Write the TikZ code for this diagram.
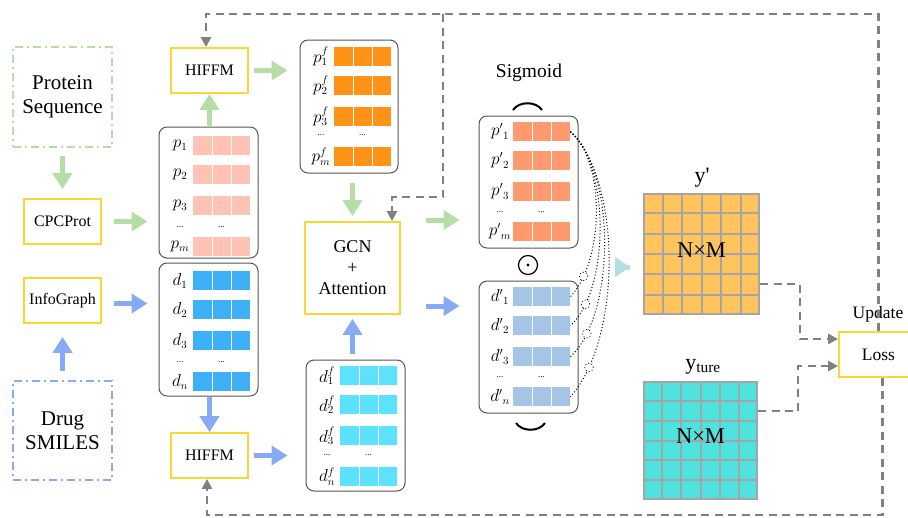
\documentclass[tikz,border=0pt]{standalone}
\usepackage{fontspec}
\setmainfont{Liberation Serif}
\usetikzlibrary{arrows.meta,calc}
\definecolor{myyellow}{RGB}{250,215,50}
\definecolor{mygreen}{RGB}{183,221,166}
\definecolor{myblue}{RGB}{135,170,245}
\definecolor{myteal}{RGB}{178,222,226}
\definecolor{contgray}{RGB}{85,85,85}
\definecolor{dgray}{RGB}{128,128,128}
\definecolor{gridc}{RGB}{165,165,165}
\definecolor{cpink}{RGB}{255,195,181}
\definecolor{cdblue}{RGB}{62,176,247}
\definecolor{corange}{RGB}{255,147,24}
\definecolor{ccyan}{RGB}{92,225,254}
\definecolor{csalmon}{RGB}{255,154,110}
\definecolor{clblue}{RGB}{164,197,230}
\definecolor{cymat}{RGB}{255,197,92}
\definecolor{ctmat}{RGB}{79,227,223}
\newcommand{\mkrow}[5]{%
  \node[rowcell, fill=#4] (#1) at (#2,#3) {};
  \draw[white, line width=0.7pt] ([xshift=19pt]#1.north west) -- ([xshift=19pt]#1.south west)
        ([xshift=38pt]#1.north west) -- ([xshift=38pt]#1.south west);
  \node[lbl] (#1l) at ([xshift=-13pt]#1.west) {#5};
}
\newcommand{\mkdots}[3]{%
  \node[dotlbl] (#1a) at (#2-13,#3) {...};
  \node[dotlbl] (#1b) at (#2+28.5,#3) {...};
}
\tikzset{
  ybox/.style={draw=myyellow, line width=1.8pt, fill=white, inner sep=0, align=center, font=\fontsize{16}{19}\selectfont},
  ddbox/.style={line width=1.5pt, dash pattern=on 8pt off 4pt on 2pt off 4pt, inner sep=0, align=center, font=\fontsize{21}{24}\selectfont},
  cont/.style={draw=contgray, line width=1pt, rounded corners=8pt, inner sep=0},
  rowcell/.style={minimum width=57pt, minimum height=19pt, inner sep=0, anchor=north west},
  lbl/.style={font=\fontsize{16}{18}\selectfont, inner sep=0},
  dotlbl/.style={font=\fontsize{9}{9}\selectfont, inner sep=0},
  garrow/.style={draw=mygreen, line width=5pt, -{Triangle[length=16pt,width=19pt]}},
  barrow/.style={draw=myblue, line width=5pt, -{Triangle[length=16pt,width=19pt]}},
  tarrow/.style={draw=myteal, line width=5pt, -{Triangle[length=15pt,width=19pt]}},
  gdash/.style={draw=dgray, line width=2.8pt, dash pattern=on 8pt off 5.5pt},
  gdarrow/.style={gdash, -{Triangle[length=10pt,width=10pt]}},
  dotc/.style={line width=1pt, dash pattern=on 1pt off 2.2pt},
  sodot/.style={circle, draw, line width=0.7pt, minimum size=8.5pt, inner sep=0, fill=white,
    path picture={\fill (path picture bounding box.center) circle (0.9pt);}},
  bodot/.style={circle, draw, line width=1.2pt, minimum size=19pt, inner sep=0,
    path picture={\fill (path picture bounding box.center) circle (1.7pt);}},
  matc/.style={draw=gridc, line width=2pt, inner sep=0, minimum width=115pt, minimum height=120pt},
  gridl/.style={draw=gridc, line width=2pt},
}
\begin{document}
\begin{tikzpicture}[x=1pt,y=-1pt]
\useasboundingbox (0,0) rectangle (908,517);

% input boxes
\node[ddbox, draw=mygreen, minimum width=99pt, minimum height=100pt] (psq) at (62.5,97) {Protein\\Sequence};
\node[ddbox, draw=myblue, minimum width=99pt, minimum height=99pt] (dsm) at (62.5,430.5) {Drug\\SMILES};
\node[ybox, minimum width=77pt, minimum height=45pt] (cpc) at (62.5,221.5) {CPCProt};
\node[ybox, minimum width=77pt, minimum height=45pt] (info) at (62.5,300.5) {InfoGraph};
\node[ybox, minimum width=77pt, minimum height=45pt] (hiffm1) at (209.5,70.5) {HIFFM};
\node[ybox, minimum width=77pt, minimum height=45pt] (hiffm2) at (209.5,455.5) {HIFFM};
\node[ybox, minimum width=95pt, minimum height=92pt, font=\fontsize{18}{21}\selectfont] (gcn) at (352.5,268) {GCN\\+\\Attention};

% containers
\node[cont, minimum width=99pt, minimum height=131pt] (pbox) at (208.5,192.5) {};
\node[cont, minimum width=99pt, minimum height=133pt] (dbox) at (208.5,329.5) {};
\node[cont, minimum width=98pt, minimum height=133pt] (pfbox) at (349,106.5) {};
\node[cont, minimum width=99pt, minimum height=131pt] (dfbox) at (355.5,425.5) {};
\node[cont, minimum width=99pt, minimum height=132pt] (ppbox) at (528.5,182) {};
\node[cont, minimum width=99pt, minimum height=132pt] (pdbox) at (528.5,347) {};

% rows
\mkrow{p1}{193}{136}{cpink}{$p_1$}
\mkrow{p2}{193}{165}{cpink}{$p_2$}
\mkrow{p3}{193}{196}{cpink}{$p_3$}
\mkrow{pm}{193}{237}{cpink}{$p_m$}
\mkdots{pdt}{193}{227}
\mkrow{d1}{193}{271}{cdblue}{$d_1$}
\mkrow{d2}{193}{300}{cdblue}{$d_2$}
\mkrow{d3}{193}{331}{cdblue}{$d_3$}
\mkrow{dn}{193}{372}{cdblue}{$d_n$}
\mkdots{ddt}{193}{362}
\mkrow{pf1}{334}{47}{corange}{$p_1^f$}
\mkrow{pf2}{334}{76}{corange}{$p_2^f$}
\mkrow{pf3}{334}{107}{corange}{$p_3^f$}
\mkrow{pfm}{334}{147}{corange}{$p_m^f$}
\mkdots{pfdt}{334}{135}
\mkrow{df1}{340}{366}{ccyan}{$d_1^f$}
\mkrow{df2}{340}{395}{ccyan}{$d_2^f$}
\mkrow{df3}{340}{426}{ccyan}{$d_3^f$}
\mkrow{dfn}{340}{467}{ccyan}{$d_n^f$}
\mkdots{dfdt}{340}{455}
\mkrow{pp1}{513}{122}{csalmon}{${p'}_1$}
\mkrow{pp2}{513}{151}{csalmon}{${p'}_2$}
\mkrow{pp3}{513}{182}{csalmon}{${p'}_3$}
\mkrow{ppm}{513}{222}{csalmon}{${p'}_m$}
\mkdots{ppdt}{513}{212}
\mkrow{pd1}{513}{287}{clblue}{${d'}_1$}
\mkrow{pd2}{513}{316}{clblue}{${d'}_2$}
\mkrow{pd3}{513}{347}{clblue}{${d'}_3$}
\mkrow{pdn}{513}{387}{clblue}{${d'}_n$}
\mkdots{pddt}{513}{377}

% sigmoid and odot
\node[font=\fontsize{19.5}{22}\selectfont, inner sep=0] (sig) at (529,73) {Sigmoid};
\draw[line width=2pt] (513,110) .. controls (519,101) and (536,101) .. (542,110);
\draw[line width=2pt] (516,423) .. controls (522,432) and (539,432) .. (545,423);
\node[bodot] (odot) at (528,265) {};

% dotted curves
\draw[dotc] (pp1.east) .. controls (605,160) and (605,260) .. (pd1.east) node[pos=0.85, sodot] (o1) {};
\draw[dotc] (pp1.east) .. controls (610,165) and (610,290) .. (pd2.east) node[pos=0.85, sodot] (o2) {};
\draw[dotc] (pp1.east) .. controls (616,170) and (616,315) .. (pd3.east) node[pos=0.86, sodot] (o3) {};
\draw[dotc] (pp1.east) .. controls (622,180) and (622,340) .. (pdn.east) node[pos=0.86, sodot] (o4) {};

% matrices
\node[matc, fill=cymat] (ymat) at (701.5,254) {};
\node[matc, fill=ctmat, minimum width=113pt, minimum height=117pt] (tmat) at (700.5,440.5) {};
\foreach \k in {1,...,5} {
  \draw[gridl] ($(ymat.north west)!\k/6!(ymat.north east)$) -- ($(ymat.south west)!\k/6!(ymat.south east)$);
  \draw[gridl] ($(ymat.north west)!\k/6!(ymat.south west)$) -- ($(ymat.north east)!\k/6!(ymat.south east)$);
  \draw[gridl] ($(tmat.north west)!\k/6!(tmat.north east)$) -- ($(tmat.south west)!\k/6!(tmat.south east)$);
  \draw[gridl] ($(tmat.north west)!\k/6!(tmat.south west)$) -- ($(tmat.north east)!\k/6!(tmat.south east)$);
}
\node[font=\fontsize{22.5}{24}\selectfont, inner sep=0] (ynm) at ([yshift=4pt]ymat.center) {N×M};
\node[font=\fontsize{22.5}{24}\selectfont, inner sep=0] (tnm) at ([yshift=4pt]tmat.center) {N×M};
\node[font=\fontsize{22}{24}\selectfont, inner sep=0] (ylab) at (702,178) {y\textquotesingle};
\node[font=\fontsize{22}{24}\selectfont, inner sep=0] (tlab) at (703,367) {y\textsubscript{ture}};

% loss
\node[ybox, minimum width=79pt, minimum height=45pt, fill=none, font=\fontsize{17.5}{20}\selectfont] (loss) at (878.5,354.5) {Loss};
\node[font=\fontsize{17.5}{20}\selectfont, inner sep=0] (upd) at (878,314) {Update};

% solid arrows
\draw[garrow, shorten <=8pt, shorten >=9pt] (psq.south) -- (cpc.north);
\draw[garrow, shorten <=12pt, shorten >=11pt] (cpc.east) -- (cpc.east -| pbox.west);
\draw[garrow] (hiffm1.south |- pbox.north) -- (hiffm1.south);
\draw[garrow, shorten <=5pt, shorten >=12pt] (hiffm1.east) -- (hiffm1.east -| pfbox.west);
\draw[garrow, shorten <=9pt, shorten >=5pt] (gcn.north |- pfbox.south) -- (gcn.north);
\coordinate (g1) at ([yshift=48pt]gcn.east);
\coordinate (g2) at ([yshift=-38pt]gcn.east);
\draw[garrow, shorten <=25pt, shorten >=19pt] (g1) -- (g1 -| ppbox.west);
\draw[barrow, shorten <=25pt, shorten >=19pt] (g2) -- (g2 -| pdbox.west);
\draw[barrow, shorten <=6pt, shorten >=4pt] (gcn.south |- dfbox.north) -- (gcn.south);
\draw[barrow] (hiffm2.north |- dbox.south) -- (hiffm2.north);
\draw[barrow, shorten <=5pt, shorten >=18pt] (hiffm2.east) -- (hiffm2.east -| dfbox.west);
\draw[barrow, shorten <=12pt, shorten >=11pt] ([yshift=-3pt]info.east) -- ([yshift=-3pt]info.east -| dbox.west);
\draw[barrow, shorten <=9pt, shorten >=13pt] (dsm.north) -- (info.south);
\coordinate (t1) at ([yshift=-13pt]ymat.west);
\draw[tarrow, shorten <=36pt, shorten >=13pt] ([xshift=-49pt]t1) -- (t1);

% dashed feedback
\coordinate (topL) at (206,14);
\coordinate (brk) at (443,14);
\coordinate (brk2) at (392,197);
\coordinate (botL) at (207,515);
\draw[gdarrow] (loss.north) |- (topL) -- (topL |- hiffm1.north);
\draw[gdarrow] (brk) |- (brk2) -- (brk2 |- gcn.north);
\draw[gdarrow] ([xshift=4pt]loss.south) |- (botL) -- (botL |- hiffm2.south);
\draw[gdarrow] ([yshift=-30pt]ymat.east) -| (800,339) -- ([yshift=15.5pt]loss.west);
\draw[gdarrow] ([yshift=29.5pt]tmat.east) -| (798,366) -- ([yshift=-11.5pt]loss.west);
\end{tikzpicture}
\end{document}
